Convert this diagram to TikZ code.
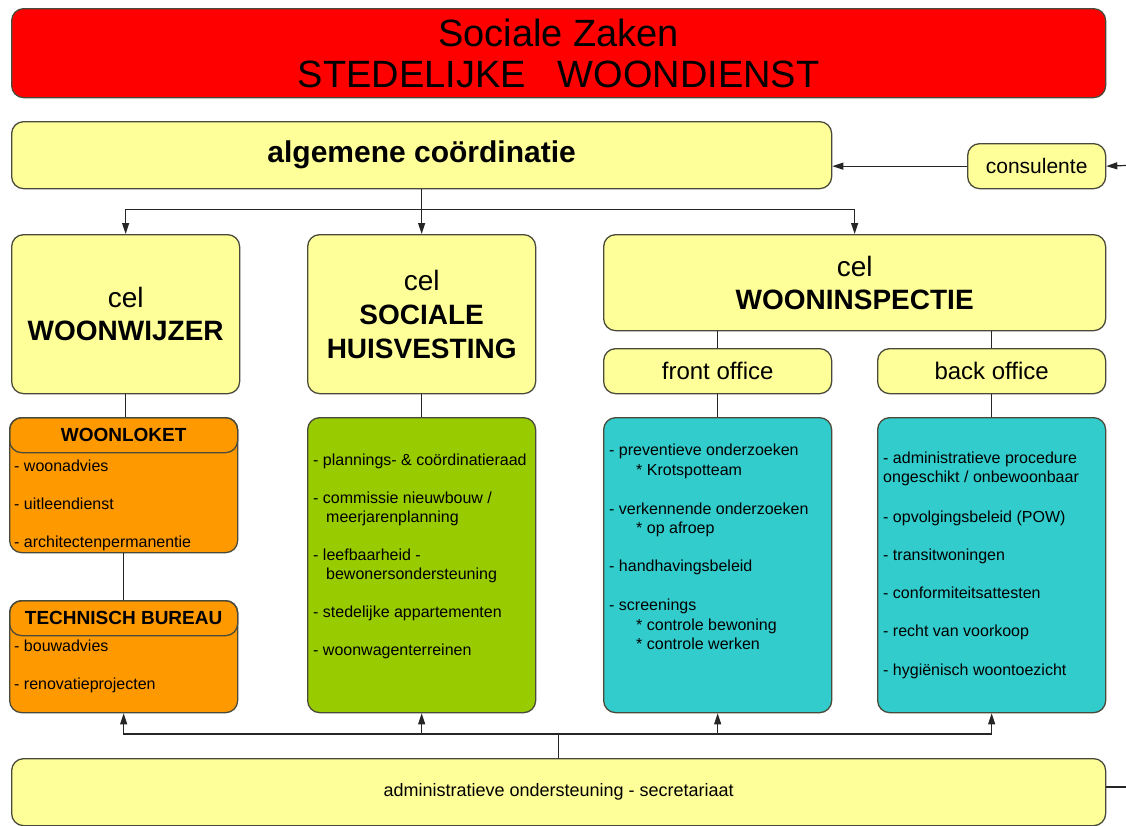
\documentclass[tikz,border=0pt]{standalone}
\usepackage{fontspec}
\setmainfont{Liberation Sans}
\usetikzlibrary{arrows.meta}
\definecolor{boxred}{HTML}{FF0000}
\definecolor{boxyel}{HTML}{FFFF99}
\definecolor{boxorg}{HTML}{FF9900}
\definecolor{boxgrn}{HTML}{99CC00}
\definecolor{boxcyn}{HTML}{33CCCC}
\definecolor{edgecol}{HTML}{4A4A3A}
\newcommand{\fs}[2]{\fontsize{#1}{#2}\selectfont}
\tikzset{
  box/.style={draw=edgecol, line width=1.3pt, rounded corners=12pt, anchor=north west, inner sep=0pt, align=center},
  itemtext/.style={anchor=base west, inner sep=0pt, align=left, font=\fs{16}{19}},
  conn/.style={draw=black!85, line width=1.2pt},
  arr/.style={conn, -{Triangle[length=11pt,width=7pt]}},
}
\begin{document}
\begin{tikzpicture}[x=1pt,y=-1pt]
\useasboundingbox (0,0) rectangle (1126,825);
% title
\node[box, fill=boxred, minimum width=1094, minimum height=89, font=\fs{38}{42}] (title) at (11,8) {Sociale Zaken\\[-1pt]STEDELIJKE\ \ \ WOONDIENST};
% top level
\node[box, fill=boxyel, minimum width=820, minimum height=67, font=\bfseries\fs{30}{34}] (alg) at (11,121) {\raisebox{-3pt}{algemene coördinatie}};
\node[box, fill=boxyel, minimum width=138, minimum height=45, font=\fs{21}{24}] (cons) at (967,143) {consulente};
% cells
\node[box, fill=boxyel, minimum width=228, minimum height=159, font=\fs{28}{33}] (ww) at (11,234) {cel\\\textbf{WOONWIJZER}};
\node[box, fill=boxyel, minimum width=228, minimum height=159, font=\fs{28}{34}] (sh) at (307,234) {cel\\\textbf{SOCIALE}\\\textbf{HUISVESTING}};
\node[box, fill=boxyel, minimum width=502, minimum height=96, font=\fs{28}{33}] (wi) at (603,234) {cel\\\textbf{WOONINSPECTIE}};
\node[box, fill=boxyel, minimum width=228, minimum height=45, font=\fs{24}{28}] (fo) at (603,348) {front office};
\node[box, fill=boxyel, minimum width=228, minimum height=45, font=\fs{24}{28}] (bo) at (877,348) {back office};
% woonloket
\node[box, fill=boxorg, minimum width=228, minimum height=135] (wl) at (9,417) {};
\node[box, minimum width=228, minimum height=35, font=\bfseries\fs{19}{22}] (wlh) at (9,417) {WOONLOKET};
\node[itemtext] (wlt) at (14,547) {- woonadvies\\[19pt]- uitleendienst\\[19pt]- architectenpermanentie};
% technisch bureau
\node[box, fill=boxorg, minimum width=228, minimum height=112] (tb) at (9,600) {};
\node[box, minimum width=228, minimum height=35, font=\bfseries\fs{19}{22}] (tbh) at (9,600) {TECHNISCH BUREAU};
\node[itemtext] (tbt) at (14,689) {- bouwadvies\\[19pt]- renovatieprojecten};
% green
\node[box, fill=boxgrn, minimum width=228, minimum height=295] (gr) at (307,417) {};
\node[itemtext] (grt) at (313,655) {- plannings- \& coördinatieraad\\[19pt]- commissie nieuwbouw /\\\hspace*{13pt}meerjarenplanning\\[19pt]- leefbaarheid -\\\hspace*{13pt}bewonersondersteuning\\[19pt]- stedelijke appartementen\\[19pt]- woonwagenterreinen};
% front cyan
\node[box, fill=boxcyn, minimum width=228, minimum height=295] (fc) at (603,417) {};
\node[itemtext] (fct) at (609,649) {- preventieve onderzoeken\\[1pt]\hspace*{27pt}* Krotspotteam\\[20pt]- verkennende onderzoeken\\\hspace*{27pt}* op afroep\\[19pt]- handhavingsbeleid\\[20pt]- screenings\\[1pt]\hspace*{27pt}* controle bewoning\\\hspace*{27pt}* controle werken};
% back cyan
\node[box, fill=boxcyn, minimum width=228, minimum height=295] (bc) at (877,417) {};
\node[itemtext] (bct) at (883,675) {- administratieve procedure\\ongeschikt / onbewoonbaar\\[21pt]- opvolgingsbeleid (POW)\\[19pt]- transitwoningen\\[19pt]- conformiteitsattesten\\[19pt]- recht van voorkoop\\[20pt]- hygiënisch woontoezicht};
% admin
\node[box, fill=boxyel, minimum width=1094, minimum height=67, font=\fs{18}{22}] (adm) at (11,758) {administratieve ondersteuning - secretariaat};
% connectors top
\draw[conn] (alg.south) -- ++(0,20) coordinate (j1);
\draw[arr] (j1) -| (ww.north);
\draw[arr] (j1) -- (sh.north);
\draw[arr] (j1) -| (wi.north);
\coordinate (rin) at (1126,165.5);
\draw[arr] (cons.west) -- (alg.east |- cons.west);
\draw[arr] (rin) -- (cons.east);
% tree lines
\draw[conn] (ww.south) -- (ww.south |- wl.north);
\draw[conn] (wl.south) -- (wl.south |- tb.north);
\draw[conn] (sh.south) -- (sh.south |- gr.north);
\draw[conn] (fo.north) -- (fo.north |- wi.south);
\draw[conn] (bo.north) -- (bo.north |- wi.south);
\draw[conn] (fo.south) -- (fo.south |- fc.north);
\draw[conn] (bo.south) -- (bo.south |- bc.north);
% bottom connectors
\draw[conn] (adm.north) -- ++(0,-24) coordinate (j2);
\draw[arr] (j2) -| (tb.south);
\draw[arr] (j2) -| (gr.south);
\draw[arr] (j2) -| (fc.south);
\draw[arr] (j2) -| (bc.south);
\coordinate (rout) at (1126,787);
\draw[conn] (rout -| adm.east) -- (rout);
\end{tikzpicture}
\end{document}
